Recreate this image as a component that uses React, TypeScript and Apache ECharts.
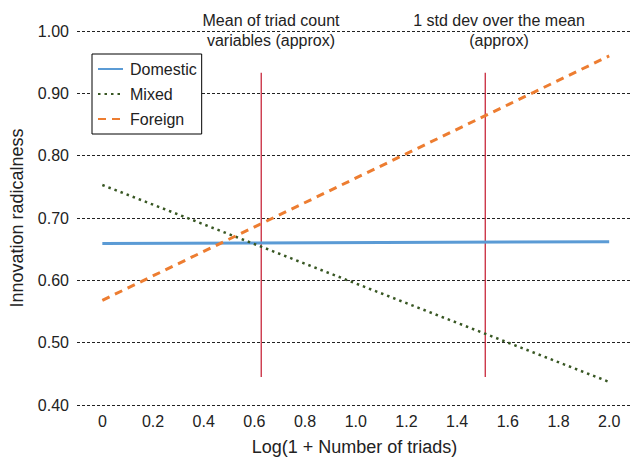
import React, { useEffect, useRef } from "react";
import * as echarts from "echarts";

const xEnds = [0, 2.0];
const domestic = [0.659, 0.662];
const mixed = [0.753, 0.437];
const foreign = [0.568, 0.96];
const xTicks = [0, 0.2, 0.4, 0.6, 0.8, 1.0, 1.2, 1.4, 1.6, 1.8, 2.0];
const meanX = 0.627;
const sdX = 1.511;
const refRange = [0.445, 0.933];
const meanLabel = "Mean of triad count\nvariables (approx)";
const sdLabel = "1 std dev over the mean\n(approx)";

const FONT = "'Liberation Sans', Arial, Helvetica, sans-serif";

export default function App() {
  const ref = useRef<HTMLDivElement>(null);
  useEffect(() => {
    if (!ref.current) return;
    const chart = echarts.init(ref.current, null, { renderer: "svg" });
    const pair = (ys: number[]) => xEnds.map((x, i) => [x, ys[i]]);
    const vline = (x: number) => refRange.map((y) => [x, y]);
    chart.setOption({
      animation: false,
      textStyle: { fontFamily: FONT },
      grid: { left: 77, right: 0, top: 31, bottom: 55, outerBoundsMode: "none" },
      legend: {
        orient: "vertical",
        left: 92,
        top: 54,
        data: ["Domestic", "Mixed", "Foreign"],
        backgroundColor: "#fff",
        borderColor: "#000",
        borderWidth: 1,
        padding: [7, 5, 7, 5],
        itemWidth: 25,
        itemHeight: 14,
        itemGap: 9,
        itemStyle: { opacity: 0 },
        textStyle: { fontFamily: FONT, fontSize: 16, color: "#222", padding: [0, 0, 0, 2] },
      },
      xAxis: {
        type: "value",
        min: -0.1,
        max: 2.09,
        name: "Log(1 + Number of triads)",
        nameLocation: "middle",
        nameGap: 33,
        nameTextStyle: { fontFamily: FONT, fontSize: 18, color: "#222" },
        axisLine: { show: false },
        axisTick: { show: false },
        splitLine: { show: false },
        axisLabel: {
          customValues: xTicks,
          margin: 8,
          fontFamily: FONT,
          fontSize: 16,
          color: "#222",
          formatter: (v: number) => (v === 0 ? "0" : v.toFixed(1)),
        },
      },
      yAxis: {
        type: "value",
        min: 0.4,
        max: 1.0,
        interval: 0.1,
        name: "Innovation radicalness",
        nameLocation: "middle",
        nameGap: 51,
        nameTextStyle: { fontFamily: FONT, fontSize: 18, color: "#222" },
        axisLine: { show: false },
        axisTick: { show: false },
        axisLabel: {
          margin: 8,
          fontFamily: FONT,
          fontSize: 16,
          color: "#222",
          formatter: (v: number) => v.toFixed(2),
        },
        splitLine: { show: true, lineStyle: { color: "#222", width: 1, type: [3, 2] } },
      },
      graphic: [
        {
          type: "text",
          x: 271,
          y: 10,
          style: {
            text: meanLabel,
            font: `16px ${FONT}`,
            fill: "#222",
            align: "center",
            verticalAlign: "top",
            lineHeight: 20,
          },
        },
        {
          type: "text",
          x: 499,
          y: 10,
          style: {
            text: sdLabel,
            font: `16px ${FONT}`,
            fill: "#222",
            align: "center",
            verticalAlign: "top",
            lineHeight: 20,
          },
        },
      ],
      series: [
        {
          name: "mean",
          type: "line",
          data: vline(meanX),
          symbol: "none",
          lineStyle: { color: "#c8283c", width: 1.3 },
          z: 1,
        },
        {
          name: "sd",
          type: "line",
          data: vline(sdX),
          symbol: "none",
          lineStyle: { color: "#c8283c", width: 1.3 },
          z: 1,
        },
        {
          name: "Domestic",
          type: "line",
          data: pair(domestic),
          symbol: "none",
          itemStyle: { color: "#5b9bd5" },
          lineStyle: { color: "#5b9bd5", width: 3 },
          z: 3,
        },
        {
          name: "Mixed",
          type: "line",
          data: pair(mixed),
          symbol: "none",
          itemStyle: { color: "#385723" },
          lineStyle: { color: "#385723", width: 2.5, type: [2.5, 4] },
          z: 3,
        },
        {
          name: "Foreign",
          type: "line",
          data: pair(foreign),
          symbol: "none",
          itemStyle: { color: "#ed7d31" },
          lineStyle: { color: "#ed7d31", width: 3, type: [8, 6] },
          z: 3,
        },
      ],
    });
    return () => chart.dispose();
  }, []);
  return (
    <div
      ref={ref}
      style={{ position: "absolute", left: 0, top: 0, width: 632, height: 460 }}
    />
  );
}
